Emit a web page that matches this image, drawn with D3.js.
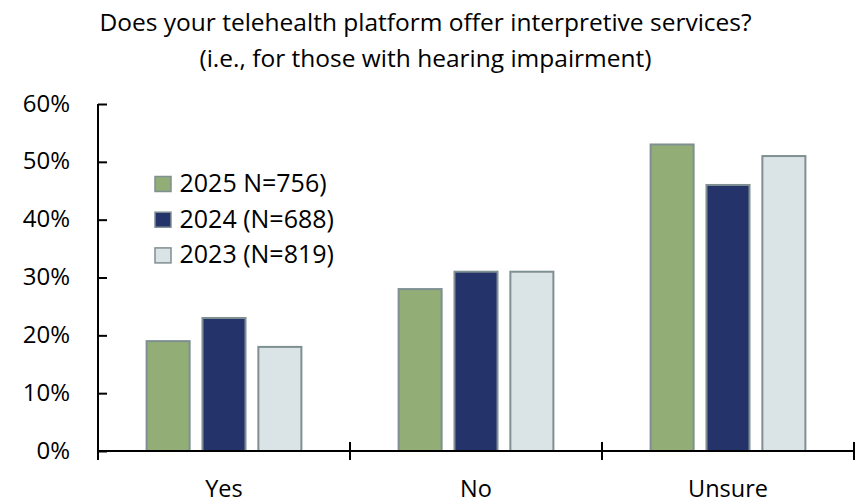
<!DOCTYPE html>
<html>
<head>
<meta charset="utf-8">
<script src="https://cdn.jsdelivr.net/npm/d3@7"></script>
<style>
  body { margin: 0; background: #fff; }
  svg text { font-family: "Open Sans", sans-serif; fill: #000; }
</style>
</head>
<body>
<svg id="chart" width="862" height="504"></svg>
<script>
const categories = ['Yes', 'No', 'Unsure']
const seriesNames = ['2025 N=756)', '2024 (N=688)', '2023 (N=819)']
const values2025 = [19, 28, 53]
const values2024 = [23, 31, 46]
const values2023 = [18, 31, 51]
const yTicks = [0, 10, 20, 30, 40, 50, 60]
const titleLines = ['Does your telehealth platform offer interpretive services?', '(i.e., for those with hearing impairment)']

const colors = ['#93ad76', '#24346b', '#dae3e5']
const series = [values2025, values2024, values2023]

const svg = d3.select('#chart')
const plotLeft = 98, plotRight = 854, plotTop = 104, plotBottom = 451

const x = d3.scaleBand().domain(categories).range([plotLeft, plotRight])
const xInner = d3.scaleBand().domain(d3.range(series.length))
  .range([0, x.bandwidth()]).paddingInner(0.23).paddingOuter(0.87)
const y = d3.scaleLinear().domain([0, 60]).range([plotBottom, plotTop])

// title
svg.append('g').selectAll('text').data(titleLines).join('text')
  .attr('x', 425.5).attr('y', (d, i) => 30.7 + i * 36)
  .attr('text-anchor', 'middle').style('font-size', '24.5px')
  .text(d => d)

// bars
const groups = svg.append('g').selectAll('g').data(series).join('g')
  .attr('fill', (d, i) => colors[i])
groups.each(function(vals, si) {
  d3.select(this).selectAll('rect').data(vals).join('rect')
    .attr('x', (d, ci) => x(categories[ci]) + xInner(si))
    .attr('width', xInner.bandwidth())
    .attr('y', d => y(d))
    .attr('height', d => y(0) - y(d))
    .attr('stroke', '#7f8f92').attr('stroke-width', 2)
})

// y axis
const yAxis = svg.append('g').attr('transform', `translate(${plotLeft},0)`)
  .call(d3.axisRight(y).tickValues(yTicks).tickSize(9).tickFormat(''))
yAxis.select('.domain').attr('d', `M0,${plotTop}V${plotBottom}`)
yAxis.selectAll('line, path').attr('stroke', '#000').attr('stroke-width', 2)
svg.append('g').selectAll('text').data(yTicks).join('text')
  .attr('x', 70).attr('y', d => y(d) + 7.5)
  .attr('text-anchor', 'end').style('font-size', '24px')
  .text(d => d + '%')

// x axis
const xAxis = svg.append('g')
xAxis.append('line').attr('x1', plotLeft).attr('x2', plotRight)
  .attr('y1', plotBottom).attr('y2', plotBottom)
xAxis.selectAll('.tick').data([plotLeft, ...categories.map(c => x(c) + x.bandwidth())]).join('line')
  .attr('class', 'tick')
  .attr('x1', d => d).attr('x2', d => d)
  .attr('y1', (d, i) => i === 0 ? plotBottom : plotBottom - 9).attr('y2', plotBottom + 9)
xAxis.selectAll('line').attr('stroke', '#000').attr('stroke-width', 2)
svg.append('g').selectAll('text').data(categories).join('text')
  .attr('x', d => x(d) + x.bandwidth() / 2).attr('y', 497)
  .attr('text-anchor', 'middle').style('font-size', '23.5px')
  .text(d => d)

// legend
const legend = svg.append('g').selectAll('g').data(seriesNames).join('g')
  .attr('transform', (d, i) => `translate(155,${176.5 + i * 35.7})`)
legend.append('rect').attr('width', 16).attr('height', 15)
  .attr('fill', (d, i) => colors[i]).attr('stroke', '#7f8f92').attr('stroke-width', 1.5)
legend.append('text').attr('x', 24.5).attr('y', 15.5)
  .style('font-size', '25px').text(d => d)
</script>
</body>
</html>
